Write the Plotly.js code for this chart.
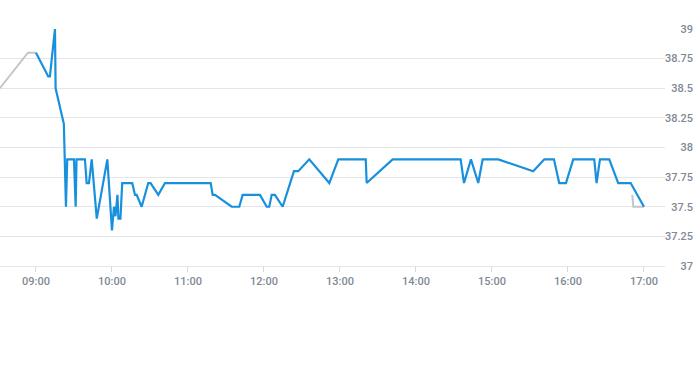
<!DOCTYPE html>
<html>
<head>
<meta charset="utf-8">
<script src="https://cdn.plot.ly/plotly-3.0.1.min.js"></script>
<style>
  html, body { margin: 0; padding: 0; background: #fff; }
  #chart { width: 693px; height: 365px; }
</style>
</head>
<body>
<div id="chart"></div>
<script>
var day = '2024-01-01 ';

var blueTimes = [
  '09:00:00','09:09:40','09:11:00','09:15:00','09:15:30','09:22:00','09:23:40','09:24:40',
  '09:30:00','09:31:20','09:32:00','09:38:40','09:40:00','09:41:50','09:44:00','09:48:00',
  '09:56:20','10:00:00','10:01:36','10:02:45','10:04:20','10:05:05','10:06:40','10:08:05',
  '10:16:00','10:18:10','10:19:30','10:23:25','10:28:40','10:30:30','10:36:35','10:41:50',
  '11:17:55','11:19:30','11:21:20','11:34:30','11:40:30','11:43:10','11:56:50','12:02:10',
  '12:04:10','12:06:05','12:08:40','12:14:45','12:23:40','12:27:05','12:35:45','12:51:35',
  '12:58:40','13:20:20','13:21:05','13:41:35','14:35:15','14:37:55','14:43:25','14:49:10',
  '14:52:40','15:05:00','15:32:35','15:41:20','15:48:55','15:53:05','15:58:25','16:04:10',
  '16:20:45','16:22:35','16:25:15','16:32:35','16:39:40','16:49:30','17:00:00'
];
var blueValues = [
  38.8, 38.6, 38.6, 39.0, 38.5, 38.2, 37.5, 37.9,
  37.9, 37.5, 37.9, 37.9, 37.7, 37.7, 37.9, 37.4,
  37.9, 37.3, 37.5, 37.42, 37.6, 37.4, 37.4, 37.7,
  37.7, 37.6, 37.6, 37.5, 37.7, 37.7, 37.6, 37.7,
  37.7, 37.6, 37.6, 37.5, 37.5, 37.6, 37.6, 37.5,
  37.5, 37.6, 37.6, 37.5, 37.8, 37.8, 37.9, 37.7,
  37.9, 37.9, 37.7, 37.9, 37.9, 37.7, 37.9, 37.7,
  37.9, 37.9, 37.8, 37.9, 37.9, 37.7, 37.7, 37.9,
  37.9, 37.7, 37.9, 37.9, 37.7, 37.7, 37.5
];

var grayTimes = ['08:31:30','08:53:40','09:00:00', null, '16:50:45','16:51:35','17:00:00'];
var grayValues = [38.5, 38.8, 38.8, null, 37.6, 37.5, 37.5];

var yTicks = [37, 37.25, 37.5, 37.75, 38, 38.25, 38.5, 38.75, 39];

function toDates(arr) {
  return arr.map(function (t) { return t === null ? null : day + t; });
}

var traces = [
  {
    x: toDates(grayTimes), y: grayValues, type: 'scatter', mode: 'lines',
    line: { color: '#c2c6ca', width: 2 }, connectgaps: false, hoverinfo: 'skip'
  },
  {
    x: toDates(blueTimes), y: blueValues, type: 'scatter', mode: 'lines',
    line: { color: '#1790dd', width: 2.2 }
  }
];

var labelFont = { family: 'Roboto, "Liberation Sans", sans-serif', size: 11, color: '#7f8995', weight: 500 };

var layout = {
  width: 693, height: 365,
  margin: { l: 0, r: 0, t: 29, b: 99, pad: 0 },
  paper_bgcolor: '#ffffff', plot_bgcolor: '#ffffff',
  showlegend: false,
  xaxis: {
    type: 'date',
    domain: [0, 665 / 693],
    range: [day + '08:31:36', day + '17:16:36'],
    tick0: day + '09:00:00', dtick: 3600000,
    tickformat: '%H:%M',
    ticks: 'outside', ticklen: 5, tickcolor: '#d5d8dc', tickwidth: 1,
    showgrid: false, zeroline: false,
    showline: true, linecolor: '#e3e5e8', linewidth: 1,
    tickfont: labelFont, fixedrange: true
  },
  yaxis: {
    range: [37, 39],
    tickvals: yTicks,
    ticktext: yTicks.map(function (v) { return String(v); }),
    anchor: 'free', position: 1, side: 'left',
    showgrid: true, gridcolor: '#e3e5e8', gridwidth: 1,
    zeroline: false, showline: false, ticks: '',
    tickfont: labelFont, automargin: false, fixedrange: true
  }
};

Plotly.newPlot('chart', traces, layout, { displayModeBar: false, staticPlot: true });
</script>
</body>
</html>
